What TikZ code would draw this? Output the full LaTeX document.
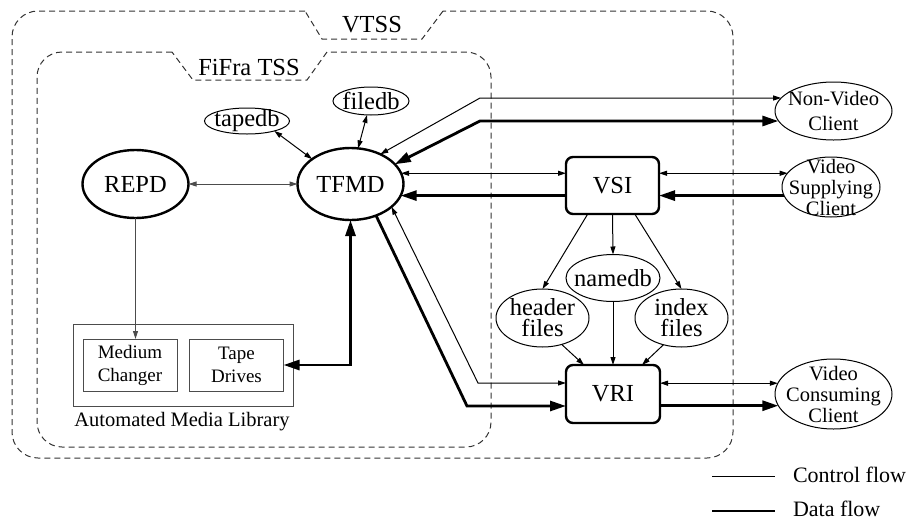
\documentclass[tikz,border=0pt]{standalone}
\usepackage{fontspec}
\setmainfont{Liberation Serif}
\usetikzlibrary{arrows.meta,shapes.geometric,calc}
\begin{document}
\begin{tikzpicture}[x=1pt,y=-1pt,
  every node/.style={inner sep=0pt,outer sep=0pt},
  bigfont/.style={font=\fontsize{24.5}{24.5}\selectfont},
  dbfont/.style={font=\fontsize{24.5}{21}\selectfont,align=center},
  clifont/.style={font=\fontsize{20.5}{21}\selectfont,align=center},
  smfont/.style={font=\fontsize{19}{23}\selectfont,align=center},
  legfont/.style={font=\fontsize{22}{22}\selectfont},
  frame/.style={draw=black!80,line width=1pt,dash pattern=on 6pt off 4pt},
  ctl/.style={line width=1pt,>={Triangle[length=8pt,width=5pt]}},
  dat/.style={line width=2.8pt,>={Triangle[length=16pt,width=10pt]}},
  proc/.style={ellipse,draw,line width=2.4pt},
  store/.style={ellipse,draw,line width=1pt},
  iface/.style={rectangle,draw,line width=2.4pt,rounded corners=7pt,
    minimum width=93pt,minimum height=57pt,bigfont},
  dev/.style={rectangle,draw=black!70,line width=1pt,
    minimum width=94pt,minimum height=52pt,smfont},
]
\useasboundingbox (0,0) rectangle (906,520);

% VTSS frame with its tab
\draw[frame,rounded corners=26pt] (305,11) -- (12,11) -- (12,458) -- (733,458) -- (733,11) -- (443,11);
\draw[frame] (443,11) -- (422,39) -- (322,39) -- (305,11);
\node[bigfont] (vtss) at (372,25) {VTSS};

% FiFra TSS frame with its tab
\draw[frame,rounded corners=25pt] (172,52) -- (37,52) -- (37,447) -- (491,447) -- (491,52) -- (327,52);
\draw[frame] (327,52) -- (307,80) -- (193,80) -- (172,52);
\node[bigfont] (fifra) at (249,68) {FiFra TSS};

% processes
\node[proc,minimum width=106pt,minimum height=68pt,
  label={[bigfont]center:REPD}] (repd) at (135.5,184) {};
\node[proc,minimum width=106pt,minimum height=72pt,
  label={[bigfont]center:TFMD}] (tfmd) at (350.5,184) {};

% databases
\node[store,minimum width=85pt,minimum height=26pt,
  label={[dbfont]center:tapedb}] (tapedb) at (247,121) {};
\node[store,minimum width=76pt,minimum height=28pt,
  label={[dbfont]center:filedb}] (filedb) at (371,101) {};
\node[store,minimum width=94pt,minimum height=47pt,
  label={[dbfont]center:namedb}] (namedb) at (613,278) {};
\node[store,minimum width=93pt,minimum height=58pt,
  label={[dbfont]center:{header\\files}}] (header) at (542.5,318) {};
\node[store,minimum width=93pt,minimum height=58pt,
  label={[dbfont]center:{index\\files}}] (index) at (681.5,318) {};

% interfaces
\node[iface] (vsi) at (612.5,185.5) {VSI};
\node[iface,minimum width=94pt,minimum height=58pt] (vri) at (613,394) {VRI};

% clients
\node[store,minimum width=117pt,minimum height=58pt,
  label={[clifont,font=\fontsize{20.5}{25}\selectfont]center:{Non-Video\\Client}}] (nvc) at (833.5,111) {};
\node[store,minimum width=98pt,minimum height=60pt,
  label={[clifont]center:{Video\\Supplying\\Client}}] (vsc) at (831,187) {};
\node[store,minimum width=117pt,minimum height=70pt,
  label={[clifont]center:{Video\\Consuming\\Client}}] (vcc) at (833.5,394) {};

% automated media library
\node[rectangle,draw=black!70,line width=1pt,minimum width=220pt,minimum height=82pt] (aml) at (183,365) {};
\node[dev] (medium) at (130,365) {Medium\\Changer};
\node[dev] (tape) at (236.5,365) {Tape\\Drives};
\node[font=\fontsize{20.5}{20.5}\selectfont] (amllabel) at (182,422) {Automated Media Library};

% control flow
\draw[ctl,<->,black!70] (repd.east) -- (tfmd.west);
\draw[ctl,->,black!70] (repd.south) -- (repd.south |- medium.north);
\draw[ctl,<->] (tapedb.340) -- (tfmd.147);
\draw[ctl,<->] (filedb.254) -- (tfmd.78);
\coordinate (b1) at (480,98);
\draw[ctl,<->] (tfmd.45) -- (b1) -- (nvc.166 |- b1);
\draw[ctl,<->] (tfmd.12) -- (tfmd.12 -| vsi.west);
\draw[ctl,<->] (vsi.east |- tfmd.12) -- (vsc.162 |- tfmd.12);
\draw[ctl,->] (vsi.229) -- (header.north);
\draw[ctl,->] (vsi.south) -- (namedb.north);
\draw[ctl,->] (vsi.308) -- (index.north);
\draw[ctl,->] (header.306) -- (vri.135);
\draw[ctl,->] (namedb.south) -- (vri.north);
\draw[ctl,->] (index.236) -- (vri.45);
\coordinate (b3) at (478,383);
\draw[ctl,<->] (tfmd.331) -- (b3) -- (vri.west |- b3);
\draw[ctl,<->] (vri.east |- vcc.169) -- (vcc.169);

% data flow
\coordinate (b2) at (480,121);
\draw[dat,<->] (tfmd.24) -- (b2) -- (nvc.190 |- b2);
\draw[dat,->] (vsi.west |- tfmd.347) -- (tfmd.347);
\draw[dat,->] (vsc.191 |- tfmd.347) -- (vsi.east |- tfmd.347);
\draw[dat,<->] (tape.east) -| (tfmd.south);
\coordinate (b4) at (467,406);
\draw[dat,->] (tfmd.309) -- (b4) -- (vri.west |- b4);
\draw[dat,->] (vri.east |- vcc.192) -- (vcc.192);

% legend
\coordinate (lc1) at (712,476);
\coordinate (lc2) at (775,476);
\draw[ctl] (lc1) -- (lc2);
\node[legfont,anchor=base west] (lctext) at (793,482) {Control flow};
\coordinate (ld1) at (712,511);
\coordinate (ld2) at (775,511);
\draw[dat] (ld1) -- (ld2);
\node[legfont,anchor=base west] (ldtext) at (793,516) {Data flow};
\end{tikzpicture}
\end{document}
